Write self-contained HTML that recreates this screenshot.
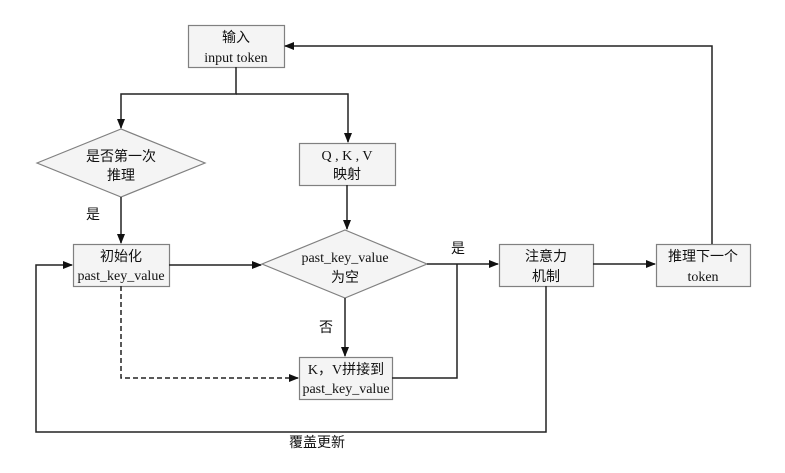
<!DOCTYPE html>
<html><head><meta charset="utf-8"><style>
html,body{margin:0;padding:0;background:#fff}
svg{display:block}
.s{font-family:"Liberation Serif","Noto Sans CJK SC",serif;font-size:14px;fill:#111}
.c{font-family:"Liberation Sans","Noto Sans CJK SC",sans-serif;font-size:14px;fill:#111}
</style></head><body>
<svg width="785" height="473" viewBox="0 0 785 473" xmlns="http://www.w3.org/2000/svg">
<defs><marker id="a" markerWidth="10" markerHeight="10" refX="9" refY="5" orient="auto" markerUnits="userSpaceOnUse"><path d="M0,1 L10,5 L0,9 z" fill="#111"/></marker></defs>
<g fill="#f4f4f4" stroke="#808080" stroke-width="1.2">
<rect x="188.5" y="25.5" width="96" height="42"/>
<rect x="299.5" y="143.5" width="96" height="42"/>
<rect x="73.5" y="244.5" width="96" height="42"/>
<rect x="299.5" y="357.5" width="93" height="42"/>
<rect x="499.5" y="244.5" width="94" height="42"/>
<rect x="656.5" y="244.5" width="94" height="42"/>
<polygon points="37,163 121,129 205,163 121,197"/>
<polygon points="262,264 345,230 427,264 345,298"/>
</g>
<g fill="none" stroke="#222" stroke-width="1.5">
<path d="M236,67 V94 H121 V128" marker-end="url(#a)"/>
<path d="M236,94 H348 V142" marker-end="url(#a)"/>
<path d="M347,185 V229" marker-end="url(#a)"/>
<path d="M121,197 V243" marker-end="url(#a)"/>
<path d="M169,265 H261" marker-end="url(#a)"/>
<path d="M345,298 V356" marker-end="url(#a)"/>
<path d="M427,264 H498" marker-end="url(#a)"/>
<path d="M392,378 H457 V264"/>
<path d="M593,264 H655" marker-end="url(#a)"/>
<path d="M712,244 V46 H285" marker-end="url(#a)"/>
<path d="M546,286 V432 H36 V265 H72" marker-end="url(#a)"/>
<path d="M121,286 V378 H298" stroke-dasharray="5,3" marker-end="url(#a)"/>
</g>
<text class="c" x="236" y="42" text-anchor="middle">输入</text>
<text class="s" x="236" y="62" text-anchor="middle">input token</text>
<text class="c" x="121" y="161" text-anchor="middle">是否第一次</text>
<text class="c" x="121" y="180" text-anchor="middle">推理</text>
<text class="s" x="347" y="160" text-anchor="middle">Q , K , V</text>
<text class="c" x="347" y="179" text-anchor="middle">映射</text>
<text class="c" x="93" y="219" text-anchor="middle">是</text>
<text class="c" x="121" y="261" text-anchor="middle">初始化</text>
<text class="s" x="121" y="280" text-anchor="middle">past_key_value</text>
<text class="s" x="345" y="262" text-anchor="middle">past_key_value</text>
<text class="c" x="345" y="282" text-anchor="middle">为空</text>
<text class="c" x="326" y="332" text-anchor="middle">否</text>
<text class="c" x="458" y="253" text-anchor="middle">是</text>
<text class="s" x="346" y="374" text-anchor="middle">K，V<tspan class="c">拼接到</tspan></text>
<text class="s" x="346" y="393" text-anchor="middle">past_key_value</text>
<text class="c" x="546" y="261" text-anchor="middle">注意力</text>
<text class="c" x="546" y="281" text-anchor="middle">机制</text>
<text class="c" x="703" y="261" text-anchor="middle">推理下一个</text>
<text class="s" x="703" y="281" text-anchor="middle">token</text>
<text class="c" x="317" y="447" text-anchor="middle">覆盖更新</text>
</svg>
</body></html>
